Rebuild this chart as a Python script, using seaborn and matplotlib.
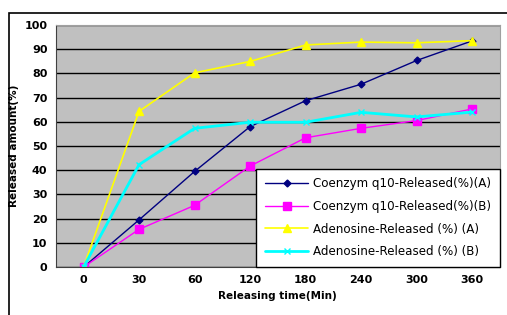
import numpy as np
import pandas as pd
import matplotlib
matplotlib.use("Agg")
import matplotlib.pyplot as plt
import seaborn as sns
from matplotlib.patches import Rectangle

# data
times = ["0", "30", "60", "120", "180", "240", "300", "360"]
coq10_a = [0, 19.5, 39.5, 58, 68.7, 75.5, 85.3, 93.4]
coq10_b = [0, 15.6, 25.5, 41.7, 53.4, 57.3, 60.5, 65.3]
adeno_a = [0, 64.3, 80.2, 84.9, 91.7, 92.9, 92.6, 93.5]
adeno_b = [0, 42.3, 57.3, 59.8, 59.8, 63.9, 62.0, 64.0]

labels = ["Coenzym q10-Released(%)(A)", "Coenzym q10-Released(%)(B)",
          "Adenosine-Released (%) (A)", "Adenosine-Released (%) (B)"]
colors = ["#000080", "#ff00ff", "#ffff00", "#00ffff"]
markers = ["D", "s", "^", "x"]
msizes = [3.5, 5.5, 5.5, 4]
lwidths = [1.0, 1.0, 1.2, 2.0]

sns.set_style("white")
plt.rcParams["font.family"] = ["DejaVu Sans"]
plt.rcParams["text.color"] = "black"
plt.rcParams["axes.labelcolor"] = "black"
plt.rcParams["xtick.color"] = "black"
plt.rcParams["ytick.color"] = "black"

fig = plt.figure(figsize=(5.07, 3.15), dpi=100)
ax = fig.add_axes([0.110, 0.152, 0.876, 0.769])
ax.set_facecolor("#c0c0c0")

for vals, lab, c, m, ms, lw in zip([coq10_a, coq10_b, adeno_a, adeno_b],
                                    labels, colors, markers, msizes, lwidths):
    df = pd.DataFrame({"time": times, "val": vals})
    sns.lineplot(data=df, x="time", y="val", ax=ax, color=c, marker=m,
                 markersize=ms, linewidth=lw, label=lab, sort=False,
                 markeredgecolor=c, markeredgewidth=1.0)

ax.set_ylim(0, 100)
ax.set_yticks(range(0, 101, 10))
ax.set_xlim(-0.5, len(times) - 0.5)
ax.set_xticks(range(len(times)))
ax.set_xticklabels(times)
ax.yaxis.grid(True, color="black", linewidth=1.0)
ax.set_axisbelow(True)
ax.tick_params(axis="both", labelsize=8, length=0, pad=6)
for t in ax.get_xticklabels() + ax.get_yticklabels():
    t.set_fontweight("bold")

for s in ["top", "right"]:
    ax.spines[s].set_color("#a0a0a0")
for s in ["left", "bottom"]:
    ax.spines[s].set_color("#404040")

ax.set_xlabel("Releasing time(Min)", fontsize=7.5, fontweight="bold", labelpad=4)
ax.set_ylabel("Released amount(%)", fontsize=7.5, fontweight="bold", labelpad=4)

leg = ax.legend(loc="lower right", bbox_to_anchor=(1.0, 0.0), fontsize=8.6,
                frameon=True, fancybox=False, borderaxespad=0,
                handlelength=3.6, handletextpad=0.4, labelspacing=0.8,
                borderpad=0.75)
leg.get_frame().set_edgecolor("black")
leg.get_frame().set_facecolor("white")
leg.get_frame().set_alpha(1)

# outer chart border
fig.patches.append(Rectangle((9 / 507, -0.1), 1.2, (315 - 13) / 315 + 0.1,
                             transform=fig.transFigure, fill=False,
                             edgecolor="black", linewidth=1.2))

fig.savefig("out.png", dpi=100)
